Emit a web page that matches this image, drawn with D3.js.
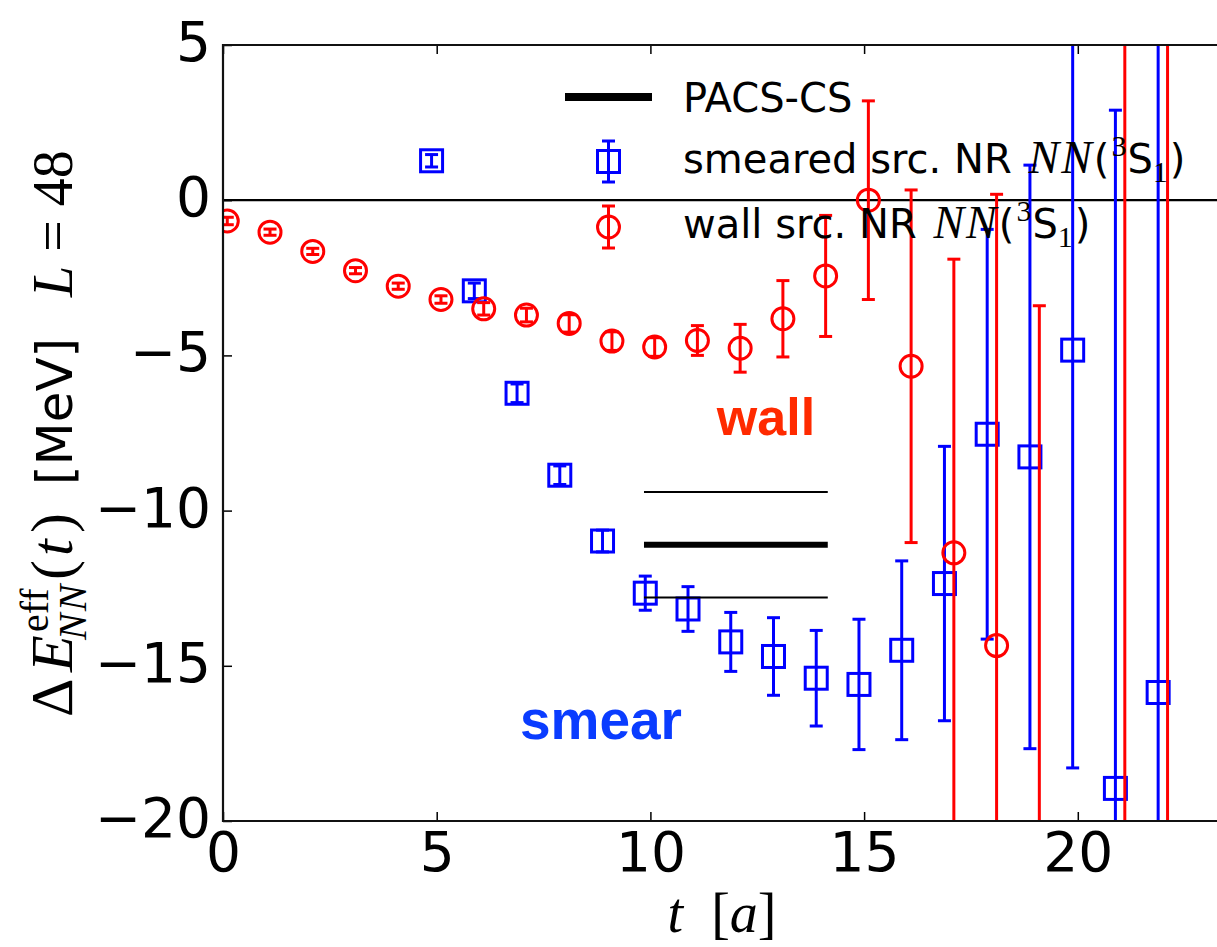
<!DOCTYPE html>
<html>
<head>
<meta charset="utf-8">
<script src="https://cdn.jsdelivr.net/npm/d3@7"></script>
<style>
  body { margin: 0; background: #fff; }
  svg { display: block; }
</style>
</head>
<body>
<svg id="chart"></svg>
<script>
// effective energy shift vs t, smeared and wall sources

var wallT = [0, 1, 2, 3, 4, 5, 6, 7, 8, 9, 10, 11, 12, 13, 14, 15, 16, 17, 18, 19, 21, 22]
var wallE = [-0.67, -1.03, -1.65, -2.27, -2.77, -3.2, -3.5, -3.7, -3.97, -4.54, -4.73, -4.52, -4.77, -3.82, -2.44, 0.0, -5.35, -11.36, -14.35, -30, -33, -30]
var wallErr = [0.12, 0.1, 0.1, 0.1, 0.1, 0.12, 0.2, 0.22, 0.28, 0.3, 0.3, 0.48, 0.77, 1.23, 1.95, 3.2, 5.68, 9.46, 14.54, 26.6, 40, 40]

var smearT = [5, 6, 7, 8, 9, 10, 11, 12, 13, 14, 15, 16, 17, 18, 19, 20, 21, 22]
var smearE = [1.27, -2.92, -6.22, -8.86, -10.98, -12.66, -13.17, -14.23, -14.7, -15.4, -15.6, -14.5, -12.35, -7.54, -8.27, -4.83, -18.95, -15.86]
var smearErr = [0.2, 0.25, 0.3, 0.3, 0.35, 0.55, 0.72, 0.95, 1.25, 1.54, 2.1, 2.88, 4.42, 6.6, 9.4, 13.46, 21.85, 24]

// PACS-CS band
var pacsValue = -11.1
var pacsErr = 1.7
var pacsRange = [9.85, 14.15]

var xTicks = [0, 5, 10, 15, 20]
var yTicks = [-20, -15, -10, -5, 0, 5]

var width = 1217, height = 947
var mLeft = 223, mTop = 45, mBottom = 821

var svg = d3.select('#chart')
    .attr('width', width)
    .attr('height', height)

var xScale = d3.scaleLinear()
    .domain([0, 23.4])
    .range([mLeft, mLeft + 23.4 * 42.74])

var yScale = d3.scaleLinear()
    .domain([-20, 5])
    .range([mBottom, mTop])

var minus = d => (d < 0 ? '\u2212' + (-d) : '' + d)

svg.append('defs').append('clipPath')
    .attr('id', 'plotclip')
    .append('rect')
    .attr('x', mLeft)
    .attr('y', mTop)
    .attr('width', xScale(23.4) - mLeft)
    .attr('height', mBottom - mTop)

var plot = svg.append('g').attr('clip-path', 'url(#plotclip)')

// zero line
plot.append('line')
    .attr('x1', mLeft).attr('x2', xScale(23.4))
    .attr('y1', yScale(0)).attr('y2', yScale(0))
    .attr('stroke', '#000').attr('stroke-width', 2.2)

function drawSeries(ts, vals, errs, dx, color, shape) {
    var pts = ts.map((t, i) => ({ x: t + dx, v: vals[i], e: errs[i] }))
    var g = plot.append('g')
        .attr('stroke', color)
        .attr('stroke-width', 3)
        .attr('fill', 'none')

    g.selectAll('line.bar').data(pts).join('line')
        .attr('class', 'bar')
        .attr('x1', d => xScale(d.x)).attr('x2', d => xScale(d.x))
        .attr('y1', d => yScale(d.v - d.e)).attr('y2', d => yScale(d.v + d.e))

    g.selectAll('line.caplo').data(pts).join('line')
        .attr('class', 'caplo')
        .attr('x1', d => xScale(d.x) - 6.5).attr('x2', d => xScale(d.x) + 6.5)
        .attr('y1', d => yScale(d.v - d.e)).attr('y2', d => yScale(d.v - d.e))

    g.selectAll('line.caphi').data(pts).join('line')
        .attr('class', 'caphi')
        .attr('x1', d => xScale(d.x) - 6.5).attr('x2', d => xScale(d.x) + 6.5)
        .attr('y1', d => yScale(d.v + d.e)).attr('y2', d => yScale(d.v + d.e))

    if (shape == 'square') {
        g.selectAll('rect').data(pts).join('rect')
            .attr('x', d => xScale(d.x) - 11).attr('y', d => yScale(d.v) - 11)
            .attr('width', 22).attr('height', 22)
    } else {
        g.selectAll('circle').data(pts).join('circle')
            .attr('cx', d => xScale(d.x)).attr('cy', d => yScale(d.v))
            .attr('r', 11)
    }
}

drawSeries(smearT, smearE, smearErr, -0.12, '#0000ff', 'square')
drawSeries(wallT, wallE, wallErr, 0.1, '#ff0000', 'circle')

// PACS-CS value and band
var pacsLines = [
    { v: pacsValue + pacsErr, w: 2 },
    { v: pacsValue, w: 6 },
    { v: pacsValue - pacsErr, w: 2 }
]
plot.selectAll('line.pacs').data(pacsLines).join('line')
    .attr('class', 'pacs')
    .attr('x1', xScale(pacsRange[0])).attr('x2', xScale(pacsRange[1]))
    .attr('y1', d => yScale(d.v)).attr('y2', d => yScale(d.v))
    .attr('stroke', '#000').attr('stroke-width', d => d.w)

// axes
var xAxis = d3.axisBottom(xScale).tickValues(xTicks).tickSize(-9).tickSizeOuter(0).tickPadding(11).tickFormat(minus)
var xTop = d3.axisTop(xScale).tickValues(xTicks).tickSize(-9).tickSizeOuter(0).tickFormat('')
var yAxis = d3.axisLeft(yScale).tickValues(yTicks).tickSize(-9).tickSizeOuter(0).tickPadding(12).tickFormat(minus)

var gx = svg.append('g').attr('transform', 'translate(0,' + mBottom + ')').call(xAxis)
var gt = svg.append('g').attr('transform', 'translate(0,' + mTop + ')').call(xTop)
var gy = svg.append('g').attr('transform', 'translate(' + mLeft + ',0)').call(yAxis)

;[gx, gt, gy].forEach(function(g) {
    g.select('.domain').remove()
    g.selectAll('.tick line').attr('stroke', '#000').attr('stroke-width', 1.5)
    g.selectAll('.tick text')
        .attr('fill', '#000')
        .style('font-family', '"DejaVu Sans"')
        .style('font-size', '55px')
})
gy.selectAll('.tick text').attr('dy', '0.28em')

// frame
svg.append('path')
    .attr('d', 'M' + xScale(23.4) + ',' + mTop + 'H' + mLeft + 'V' + mBottom + 'H' + xScale(23.4))
    .attr('fill', 'none').attr('stroke', '#111').attr('stroke-width', 2.2)

// annotations
svg.append('text')
    .attr('x', 766).attr('y', 435)
    .attr('text-anchor', 'middle')
    .style('font-family', '"Liberation Sans"').style('font-weight', 'bold').style('font-size', '52px')
    .attr('fill', '#ff2a00')
    .text('wall')

svg.append('text')
    .attr('x', 601).attr('y', 739)
    .attr('text-anchor', 'middle')
    .style('font-family', '"Liberation Sans"').style('font-weight', 'bold').style('font-size', '55px')
    .attr('fill', '#0a3cff')
    .text('smear')

// axis labels
var xl = svg.append('text')
    .attr('x', 722).attr('y', 932)
    .attr('text-anchor', 'middle')
    .style('font-family', '"Liberation Serif"').style('font-size', '56px')
xl.append('tspan').style('font-style', 'italic').text('t')
xl.append('tspan').text('\u2002[')
xl.append('tspan').style('font-style', 'italic').text('a')
xl.append('tspan').text(']')

// y label, rotated; local x = -page y
var yl = svg.append('text')
    .attr('transform', 'translate(72,0) rotate(-90)')
    .style('font-family', '"Liberation Serif"').style('font-size', '60px')
yl.append('tspan').attr('x', -717).text('\u0394')
yl.append('tspan').attr('x', -672).style('font-style', 'italic').text('E')
yl.append('tspan').attr('x', -632).attr('dy', -24).style('font-size', '40px').text('eff')
yl.append('tspan').attr('x', -640).attr('dy', 38).style('font-size', '40px').style('font-style', 'italic').style('letter-spacing', '2px').text('NN')
yl.append('tspan').attr('x', -580).attr('dy', -14).text('(')
yl.append('tspan').attr('x', -556).style('font-style', 'italic').text('t')
yl.append('tspan').attr('x', -533).text(')')
yl.append('tspan').attr('x', -485).style('font-family', '"DejaVu Sans"').style('font-size', '50px').text('[MeV]')
yl.append('tspan').attr('x', -297).style('font-style', 'italic').style('font-size', '56px').text('L')
yl.append('tspan').style('font-size', '56px').text(' = 48')

// legend
var leg = svg.append('g')

leg.append('line')
    .attr('x1', 565).attr('x2', 652).attr('y1', 97).attr('y2', 97)
    .attr('stroke', '#000').attr('stroke-width', 8)

var lb = leg.append('g').attr('stroke', '#0000ff').attr('stroke-width', 3).attr('fill', 'none')
lb.append('line').attr('x1', 608.5).attr('x2', 608.5).attr('y1', 141).attr('y2', 182)
lb.append('line').attr('x1', 602).attr('x2', 615).attr('y1', 141).attr('y2', 141)
lb.append('line').attr('x1', 602).attr('x2', 615).attr('y1', 182).attr('y2', 182)
lb.append('rect').attr('x', 597.5).attr('y', 150.5).attr('width', 22).attr('height', 22)

var lr = leg.append('g').attr('stroke', '#ff0000').attr('stroke-width', 3).attr('fill', 'none')
lr.append('line').attr('x1', 608.5).attr('x2', 608.5).attr('y1', 206).attr('y2', 248)
lr.append('line').attr('x1', 602).attr('x2', 615).attr('y1', 206).attr('y2', 206)
lr.append('line').attr('x1', 602).attr('x2', 615).attr('y1', 248).attr('y2', 248)
lr.append('circle').attr('cx', 608.5).attr('cy', 227).attr('r', 11)

var legendLabels = ['PACS-CS', 'smeared src. NR ', 'wall src. NR ']
var legendY = [112, 173, 238]

legendLabels.forEach(function(lab, i) {
    var t = leg.append('text')
        .attr('x', 683).attr('y', legendY[i])
        .style('font-family', '"DejaVu Sans"').style('font-size', '40px')
    t.append('tspan').text(lab)
    if (i > 0) {
        t.append('tspan').attr('dx', 4).style('font-family', '"Liberation Serif"').style('font-style', 'italic')
            .style('font-size', '46px').style('letter-spacing', '2px').text('NN')
        t.append('tspan').text('(')
        t.append('tspan').attr('dx', 2).attr('dy', -17).style('font-family', '"Liberation Serif"').style('font-size', '30px').text('3')
        t.append('tspan').attr('dx', 1).attr('dy', 17).text('S')
        t.append('tspan').attr('dy', 9).style('font-family', '"Liberation Serif"').style('font-size', '30px').text('1')
        t.append('tspan').attr('dx', 2).attr('dy', -9).text(')')
    }
})
</script>
</body>
</html>
